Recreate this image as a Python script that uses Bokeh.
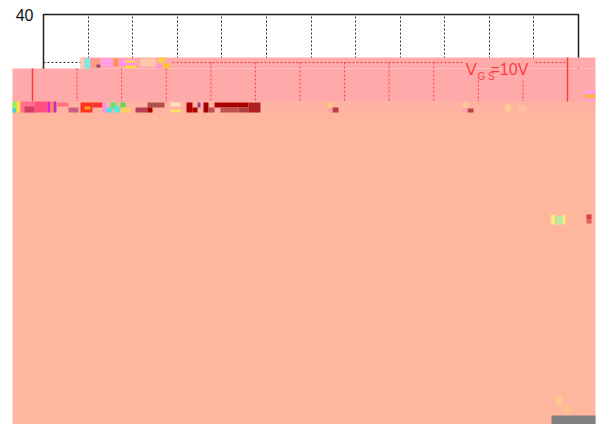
from bokeh.plotting import figure
from bokeh.models import BoxAnnotation, FixedTicker, Label, Range1d
from bokeh.embed import file_html
from bokeh.resources import INLINE

# chart scale and ticks
x_ticks = [0, 1, 2, 3, 4, 5, 6, 7, 8, 9, 10, 11, 12]
y_ticks = [35, 40]
y_labels = {35: "", 40: "40"}
series_label = ("V", "G S", "=10V")

W, H = 603, 424
PX, PY = 535 / 12, 384 / 40
X0, Y0 = 43, 14
px = lambda v: (v - X0) / PX
py = lambda v: 40 - (v - Y0) / PY

p = figure(width=W, height=H, output_backend="svg", toolbar_location=None,
           x_range=Range1d(px(0), px(W)), y_range=Range1d(py(H), py(0)),
           min_border=0)
p.background_fill_color = "white"
p.border_fill_color = "white"
p.outline_line_color = None
p.xaxis.fixed_location = 0
p.yaxis.fixed_location = 0
p.xaxis.ticker = FixedTicker(ticks=x_ticks)
p.yaxis.ticker = FixedTicker(ticks=y_ticks)
p.yaxis.major_label_overrides = y_labels
p.xaxis.major_label_overrides = {t: "" for t in x_ticks}
for ax in (p.xaxis, p.yaxis):
    ax.axis_line_color = None
    ax.major_tick_line_color = None
    ax.minor_tick_line_color = None
p.yaxis.major_label_text_font = "Liberation Sans"
p.yaxis.major_label_text_font_size = "16px"
p.yaxis.major_label_text_color = "#111111"
p.yaxis.major_label_standoff = 4
p.xgrid.bounds = (0, 12)
p.xgrid.cross_bounds = (0, 40)
p.ygrid.bounds = (0, 40)
p.ygrid.cross_bounds = (0, 12)
for g in (p.xgrid, p.ygrid):
    g.grid_line_color = "#333333"
    g.grid_line_dash = "2 2"
    g.grid_line_width = 1
p.quad(left=[0], right=[12], bottom=[0], top=[40], fill_color=None,
       line_color="#111111", line_width=1.5, level="underlay")

# damaged picture blocks: page-pixel left, right, top, bottom, colour
PINK, ORANGE, ORANGE2 = "#ffaaaa", "#ffb3a3", "#ffb69e"
blocks = [
    (12, 595, 68, 102, PINK), (80, 595, 57, 68, PINK),
    (12, 595, 101, 113, ORANGE), (12, 595, 112, 424, ORANGE2),
    (551, 595, 415, 424, "#808080"),
]
tiles = [
    (80, 84, 58, 68, "#ffc8b4"), (84, 90, 58, 68, "#7fe8e0"), (90, 100, 58, 68, "#ff9a8a"),
    (96, 100, 64, 67, "#a04060"), (100, 112, 58, 66, "#ffa0e0"), (113, 118, 58, 66, "#ff9060"),
    (119, 135, 59, 65, "#ff90f0"), (125, 135, 65, 68, "#ffd840"), (124, 135, 60, 62, "#ffe040"),
    (140, 155, 58, 66, "#ffc8a8"), (158, 164, 57, 62, "#ffd030"), (162, 170, 63, 68, "#ffc040"),
    (157, 162, 64, 68, "#ff90e0"),
    (12, 16, 101, 108, "#90f060"), (12, 16, 108, 112, "#40d0e0"), (16, 20, 101, 112, "#ffe040"),
    (20, 34, 101, 112, "#ff7090"), (24, 34, 106, 112, "#d04060"), (34, 47, 101, 112, "#ff5080"),
    (47, 50, 101, 112, "#e020e0"), (50, 53, 101, 112, "#ff9040"), (53, 56, 101, 112, "#c030c0"),
    (57, 68, 102, 106, "#ff7080"), (68, 78, 107, 112, "#d06080"),
    (80, 92, 102, 112, "#ff3020"), (84, 90, 106, 109, "#ffa020"), (92, 102, 102, 107, "#ff3030"),
    (102, 106, 102, 112, "#ff90e0"), (106, 112, 107, 112, "#50e0e0"), (110, 116, 102, 108, "#60e080"),
    (114, 120, 106, 112, "#50e8e0"), (120, 125, 102, 107, "#50e050"), (120, 130, 107, 112, "#ffd060"),
    (135, 147, 107, 112, "#b84050"), (147, 164, 102, 107, "#b05050"), (147, 152, 107, 112, "#b00000"),
    (170, 180, 102, 106, "#ffe0c0"), (170, 180, 109, 112, "#ffe060"),
    (186, 192, 102, 112, "#b00000"), (192, 197, 107, 112, "#b00000"), (197, 200, 102, 107, "#a04090"),
    (203, 208, 102, 112, "#a00000"), (208, 214, 107, 112, "#c05050"),
    (214, 248, 102, 107, "#a80000"), (220, 238, 107, 112, "#c05050"), (238, 248, 107, 112, "#b04040"),
    (248, 260, 102, 112, "#b02020"),
    (327, 332, 102, 108, "#ffc880"), (332, 338, 107, 112, "#b84040"), (327, 332, 108, 112, "#ffa0b0"),
    (462, 467, 102, 108, "#ffc890"), (467, 473, 108, 112, "#b84040"), (462, 467, 108, 112, "#ffa0b0"),
    (505, 510, 104, 111, "#ffd090"), (518, 525, 106, 111, "#ffc0a0"),
    (585, 595, 90, 94, "#ffa0e0"), (585, 595, 94, 98, "#ffb040"), (585, 595, 98, 100, "#ffa0e0"),
    (550, 555, 214, 224, "#ffd090"), (551, 554, 214, 224, "#f0f080"), (556, 562, 216, 224, "#b0f0a0"),
    (562, 565, 214, 224, "#f0f080"), (586, 591, 214, 219, "#d04040"), (586, 591, 219, 223, "#e06050"),
    (555, 562, 395, 405, "#ffc890"), (562, 572, 405, 412, "#ffc090"),
]
for l, r, t, b, c in blocks + tiles:
    p.add_layout(BoxAnnotation(left=l, right=r, top=t, bottom=b,
                               left_units="canvas", right_units="canvas",
                               top_units="canvas", bottom_units="canvas",
                               fill_color=c, fill_alpha=1, line_color=None, level="annotation"))

# the shifted copy of the frame and grid inside the damaged block, in page pixels
RED = "#ff3a3a"
shift = 11
red_grid_top = {1: 68, 2: 68, 3: 68, 4: 62, 5: 62, 6: 62, 7: 62, 8: 62, 9: 62, 10: 80, 11: 80}
for t, top in red_grid_top.items():
    xp = x_ticks[t] * PX + X0 - shift
    p.segment([px(xp)], [py(top)], [px(xp)], [py(101)], line_color=RED, line_dash="2 2",
              line_width=1, level="overlay")
p.segment([px(172), px(535)], [py(62), py(62)], [px(462), px(565)], [py(62), py(62)],
          line_color=RED, line_dash="2 2", line_width=1, level="overlay")
p.segment([px(567), px(32)], [py(57), py(68)], [px(567), px(32)], [py(101), py(101)],
          line_color=RED, line_width=1.5, level="overlay")

for txt, xp, yp, fs in [(series_label[0], 465, 69, "17px"), (series_label[1], 477, 76, "10px"),
                        (series_label[2], 490, 69, "16px")]:
    p.add_layout(Label(x=xp, y=yp, x_units="canvas", y_units="canvas", text=txt,
                       text_color=RED, text_font="Liberation Sans", text_font_size=fs,
                       level="overlay", text_baseline="alphabetic"))

open("out.html", "w").write(file_html(p, INLINE))
